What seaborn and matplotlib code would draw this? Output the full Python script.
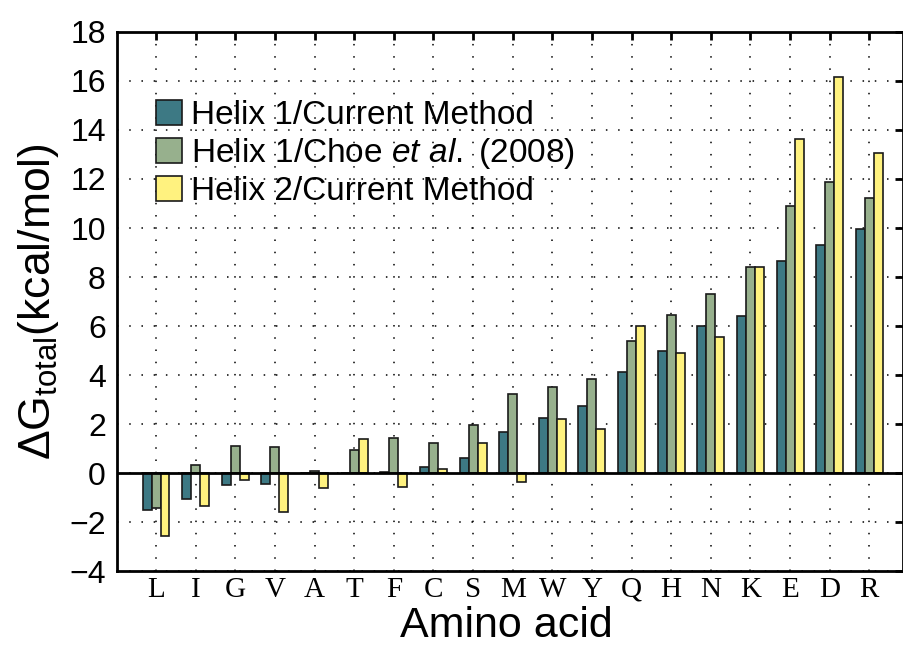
import matplotlib
matplotlib.use('Agg')
import matplotlib.pyplot as plt
import seaborn as sns
import pandas as pd

# Data
amino = ['L', 'I', 'G', 'V', 'A', 'T', 'F', 'C', 'S', 'M', 'W', 'Y', 'Q', 'H', 'N', 'K', 'E', 'D', 'R']
helix1_current = [-1.5, -1.06, -0.48, -0.45, 0.0, 0.0, 0.05, 0.24, 0.61, 1.67, 2.24, 2.75, 4.12, 5.0, 5.98, 6.42, 8.65, 9.32, 9.97]
helix1_choe = [-1.44, 0.34, 1.1, 1.05, 0.07, 0.95, 1.43, 1.22, 1.96, 3.24, 3.52, 3.84, 5.4, 6.46, 7.32, 8.41, 10.88, 11.88, 11.24]
helix2_current = [-2.57, -1.33, -0.3, -1.59, -0.61, 1.4, -0.59, 0.18, 1.21, -0.36, 2.2, 1.81, 6.02, 4.9, 5.56, 8.41, 13.64, 16.16, 13.05]
series_names = ['Helix 1/Current Method', r'Helix 1/Choe $\mathit{et\ al.}$ (2008)', 'Helix 2/Current Method']
colors = ['#3d7984', '#97b08d', '#fff27f']

df = pd.DataFrame({
    'Amino acid': amino * 3,
    'dG': helix1_current + helix1_choe + helix2_current,
    'Series': [series_names[0]] * len(amino) + [series_names[1]] * len(amino) + [series_names[2]] * len(amino),
})

sns.set_style('white')
plt.rcParams['font.family'] = ['Liberation Sans', 'DejaVu Sans']
plt.rcParams['text.color'] = 'black'
plt.rcParams['axes.labelcolor'] = 'black'
plt.rcParams['xtick.color'] = 'black'
plt.rcParams['ytick.color'] = 'black'
plt.rcParams['mathtext.fontset'] = 'custom'
plt.rcParams['mathtext.rm'] = 'Liberation Sans'
plt.rcParams['mathtext.it'] = 'Liberation Sans:italic'

fig = plt.figure(figsize=(9.04, 6.45), dpi=100)
ax = fig.add_axes([0.1294, 0.1147, 0.8695, 0.8357])

ax.set_axisbelow(True)
sns.barplot(data=df, x='Amino acid', y='dG', hue='Series', palette=colors, saturation=1,
            width=0.68, gap=0, edgecolor='#1a1a1a', linewidth=1.2, ax=ax, zorder=2)

ax.axhline(0, color='black', lw=2, zorder=3)
ax.set_xlim(-0.985, 18.85)
ax.set_ylim(-4, 18)
ax.set_yticks(range(-4, 19, 2))
ax.grid(True, color='black', linestyle=(0, (1, 7)), linewidth=1.1)

for s in ax.spines.values():
    s.set_linewidth(2)
    s.set_color('black')
ax.tick_params(axis='both', direction='in', length=6, width=2, top=True, right=True)
ax.tick_params(axis='y', labelsize=23, pad=8)
ax.tick_params(axis='x', pad=4)
for lbl in ax.get_xticklabels():
    lbl.set_family('Liberation Serif')
    lbl.set_fontsize(21)

ax.set_xlabel('')
fig.text(0.5 * (0.1294 + 0.9989) - 0.004, 8 / 645, 'Amino acid', fontsize=31, ha='center', va='baseline')
ax.set_ylabel(r'$\Delta\mathrm{G}_{\mathrm{total}}$(kcal/mol)', fontsize=32, labelpad=6)

ax.legend(loc='upper left', bbox_to_anchor=(0.033, 0.898), frameon=False, fontsize=24,
          handlelength=0.78, handleheight=0.75, handletextpad=0.25, labelspacing=0.15,
          borderaxespad=0)

fig.savefig('out.png', dpi=100)
